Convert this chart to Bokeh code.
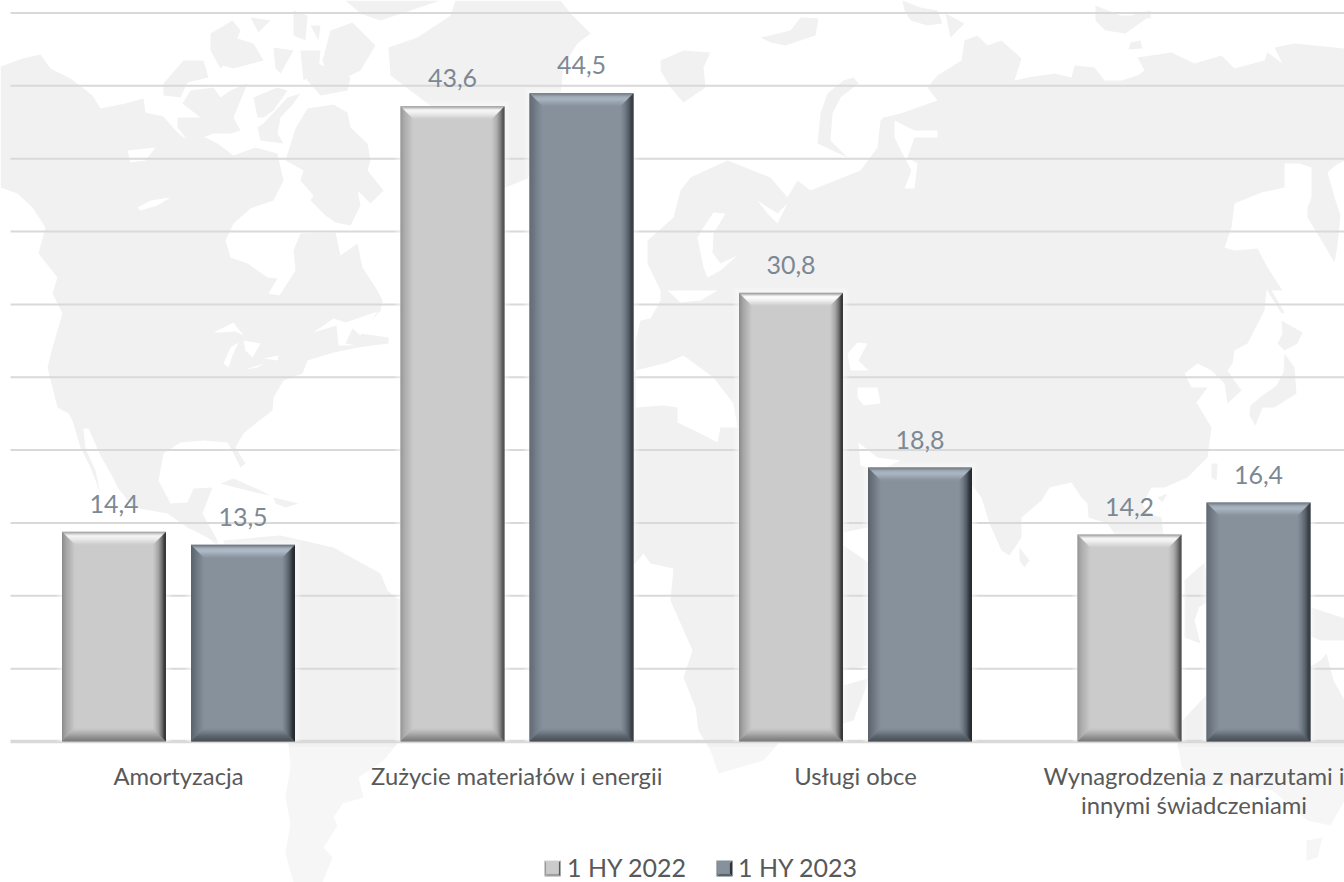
from bokeh.plotting import figure
from bokeh.models import (Range1d, PolyAnnotation, Legend, LegendItem, ColumnDataSource)
from bokeh.core.properties import value
from bokeh.embed import file_html
from bokeh.resources import INLINE

categories = ["Amortyzacja", "Zużycie materiałów i energii", "Usługi obce",
              "Wynagrodzenia z narzutami i\ninnymi świadczeniami"]
series_names = ["1 HY 2022", "1 HY 2023"]
values_2022 = [14.4, 43.6, 30.8, 14.2]
values_2023 = [13.5, 44.5, 18.8, 16.4]
grid_values = [0, 5, 10, 15, 20, 25, 30, 35, 40, 45, 50]

# decorative world-map backdrop, traced in pixels
LAND = [
 [(0,66),(22,58),(40,54),(50,68),(70,78),(92,95),(100,108),(125,103),(143,98),(145,112),(163,116),(175,130),(183,137),(205,137),(217,143),(233,155),(255,147),(277,153),(283,180),(273,200),(250,208),(233,223),(225,240),(230,257),(247,263),(267,277),(277,278),(268,293),(279,295),(295,270),(293,250),(300,233),(335,232),(340,255),(357,243),(362,267),(377,290),(382,300),(380,310),(360,333),(388,337),(388,343),(357,347),(333,352),(307,360),(302,373),(283,380),(273,397),(272,410),(250,427),(243,433),(235,447),(245,463),(240,467),(233,453),(227,442),(203,440),(180,442),(163,453),(158,480),(170,503),(187,502),(193,488),(212,487),(202,513),(217,540),(217,545),(207,537),(187,527),(167,513),(133,507),(117,487),(113,478),(100,455),(88,428),(83,428),(85,448),(95,470),(100,493),(90,467),(80,447),(72,420),(68,413),(57,407),(52,387),(47,367),(52,347),(62,313),(52,293),(57,277),(38,253),(45,227),(32,207),(17,193),(0,187)],
 [(358,0),(345,0),(360,13),(380,20),(440,0)],
 [(375,45),(360,70),(330,85),(322,60),(330,30),(352,22)],
 [(455,0),(560,0),(570,13),(590,33),(577,43),(563,65),(560,95),(540,150),(527,178),(505,187),(470,150),(430,105),(423,100),(390,75),(388,47),(417,37),(450,15)],
 [(295,128),(307,108),(333,104),(347,112),(350,127),(367,143),(370,160),(367,170),(383,190),(370,203),(357,190),(360,205),(350,225),(335,222),(325,215),(310,200),(313,195),(300,180),(303,170),(285,160)],
 [(163,83),(183,60),(203,60),(208,77),(187,82),(180,97),(163,95)],
 [(177,117),(200,117),(182,103),(190,90),(213,87),(220,97),(230,90),(247,83),(240,100),(233,117),(240,130),(230,133),(213,133),(200,138),(185,137),(177,127)],
 [(253,97),(277,87),(287,90),(273,110),(263,117),(257,117)],
 [(263,123),(287,97),(300,93),(293,103),(280,117),(277,133),(283,143),(260,140),(257,127)],
 [(303,57),(350,77),(347,90),(320,95),(307,80)],
 [(217,43),(237,38),(253,43),(263,60),(233,68),(223,65),(218,50)],
 [(273,47),(293,50),(280,73),(275,68)],
 [(300,50),(320,50),(318,72),(303,80)],
 [(210,33),(232,20),(240,30),(228,60),(220,68),(210,50)],
 [(250,17),(270,20),(258,32)],
 [(293,10),(307,15),(305,40),(293,35)],
 [(310,25),(320,25),(318,40)],
 [(220,483),(233,478),(260,490),(270,495),(255,492),(235,487)],
 [(273,497),(298,503),(285,507),(275,503)],
 [(223,540),(280,535),(333,547),(380,573),(387,590),(395,597),(450,620),(450,680),(410,730),(397,743),(383,760),(358,777),(363,797),(342,803),(333,817),(337,825),(323,847),(332,857),(322,882),(293,882),(285,853),(290,823),(285,797),(290,767),(288,743),(270,680),(235,600)],
 [(660,60),(683,50),(710,52),(703,67),(705,87),(683,102),(670,87),(660,70)],
 [(760,37),(790,30),(800,17),(818,18),(815,35),(785,45),(770,42)],
 [(853,77),(858,83),(840,97),(832,113),(830,140),(847,157),(817,143),(820,113),(827,93),(843,80)],
 [(902,0),(920,7),(937,10),(942,23),(927,25),(910,20),(904,10)],
 [(945,13),(964,23),(950,37)],
 [(1095,5),(1120,15),(1150,15),(1125,33),(1105,30),(1095,20)],
 [(1130,15),(1150,10),(1150,18)],
 [(1130,42),(1140,40),(1142,48),(1128,49)],
 # Eurasia and Africa
 [(680,190),(690,177),(727,160),(770,177),(787,197),(797,180),(810,190),(860,170),(877,147),(880,120),(883,117),(900,113),(917,107),(937,100),(927,87),(937,75),(961,60),(964,40),(977,35),(987,45),(1001,40),(1021,58),(1014,80),(1027,77),(1054,73),(1071,77),(1074,65),(1094,67),(1104,80),(1121,80),(1137,75),(1144,70),(1137,57),(1171,52),(1194,63),(1221,55),(1234,68),(1264,60),(1267,52),(1282,63),(1274,47),(1294,43),(1344,48),(1344,160),(1335,165),(1327,172),(1335,200),(1340,215),(1337,245),(1334,262),(1324,245),(1307,217),(1307,207),(1311,197),(1311,167),(1299,163),(1284,163),(1284,187),(1261,192),(1234,203),(1231,227),(1224,247),(1234,250),(1257,248),(1267,267),(1282,290),(1266,290),(1264,310),(1247,343),(1234,350),(1232,363),(1227,370),(1241,390),(1227,403),(1224,383),(1211,370),(1197,363),(1184,373),(1191,387),(1207,387),(1196,402),(1211,427),(1207,457),(1187,477),(1164,487),(1151,487),(1142,503),(1147,513),(1161,517),(1163,535),(1150,560),(1115,570),(1115,535),(1107,523),(1088,517),(1087,503),(1081,497),(1071,482),(1049,487),(1041,500),(1021,517),(1021,537),(1009,555),(1001,550),(989,523),(981,497),(960,470),(920,500),(880,530),(868,527),(843,532),(843,545),(880,570),(870,620),(867,683),(853,720),(843,723),(783,737),(763,760),(718,773),(710,750),(698,730),(695,707),(683,677),(692,650),(670,600),(673,568),(650,563),(643,553),(635,563),(590,560),(545,510),(535,450),(560,410),(600,385),(635,370),(635,340),(640,320),(650,318),(660,300),(660,290),(647,263),(647,240),(673,217)],
 [(1019,547),(1029,560),(1024,567),(1019,560)],
 [(1211,463),(1217,463),(1216,480),(1211,477)],
 [(1157,497),(1167,493),(1162,502)],
 [(1284,353),(1294,367),(1296,393),(1274,407),(1262,407),(1255,425),(1249,415),(1250,405),(1262,395),(1276,385),(1283,372)],
 [(1281,320),(1302,332),(1297,343),(1284,350),(1277,343),(1282,333)],
 [(1266,265),(1271,290),(1284,312),(1281,313),(1268,292),(1264,270)],
 [(1184,580),(1204,562),(1210,600),(1184,615)],
 [(1184,613),(1200,603),(1194,620),(1200,643),(1184,637)],
 [(1311,607),(1344,618),(1344,640),(1320,640),(1311,636)],
 [(1177,743),(1182,720),(1210,690),(1250,670),(1311,665),(1320,660),(1326,653),(1333,680),(1344,700),(1344,800),(1330,825),(1307,820),(1272,790),(1228,783),(1194,787),(1181,765)],
 [(1306,840),(1322,837),(1317,857),(1306,860)],
]
WATER = [
 [(213,332),(233,322),(243,335),(235,331),(220,332)],
 [(223,363),(230,347),(238,342),(232,355),(228,367)],
 [(243,340),(260,343),(252,357),(245,350)],
 [(245,369),(263,363),(257,367)],
 [(263,358),(278,355),(277,360)],
 [(313,332),(333,318),(345,322),(377,311),(368,325),(360,335),(352,328),(345,343),(355,345),(338,345),(336,325)],
 [(127,150),(155,147),(145,160),(130,162)],
 [(137,207),(150,200),(170,197),(157,205),(140,210)],
 [(713,212),(725,213),(713,233),(712,252),(720,263),(737,255),(720,270),(707,277),(703,267),(697,237),(703,227)],
 [(757,200),(777,213),(787,203),(777,223),(767,213)],
 [(667,290),(717,290),(700,300),(680,302)],
 [(635,370),(643,368),(667,362),(683,355),(713,377),(733,403),(737,427),(720,427),(717,442),(700,433),(677,422),(677,407),(663,405),(635,407)],
 [(847,353),(857,342),(867,343),(858,360),(868,370),(850,370)],
 [(857,387),(877,387),(880,403),(863,405),(857,397)],
 [(858,442),(877,457),(900,460),(880,470),(860,465)],
 [(843,532),(868,527),(868,540),(843,545)],
 [(894,120),(914,130),(937,130),(937,137),(914,137),(907,157),(917,163),(914,188),(904,188),(911,170),(904,157),(894,137)],
 [(843,670),(867,665),(867,678),(843,685)],
]

PX_X = 338.5          # pixels per category
PX_Y = 14.57          # pixels per unit
X0 = 178.0            # x of the first category
Y0 = 741.0            # y of value 0
BAR = 104 / PX_X
OFF = 64.5 / PX_X
BEVEL = 13
dx, dy = 1 / PX_X, 1 / PX_Y

p = figure(width=1344, height=882, output_backend="svg", toolbar_location=None,
           x_range=Range1d((0 - X0) / PX_X, (1344 - X0) / PX_X),
           y_range=Range1d((Y0 - 882) / PX_Y, Y0 / PX_Y),
           x_axis_location=None, y_axis_location=None,
           min_border_left=0, min_border_right=0, min_border_top=0, min_border_bottom=0,
           outline_line_color=None, background_fill_color="white", border_fill_color=None)
p.grid.visible = False


def backdrop(poly, color, alpha=1.0, level="underlay"):
    p.add_layout(PolyAnnotation(xs=[a for a, _ in poly], ys=[b for _, b in poly],
                                xs_units="canvas", ys_units="canvas",
                                fill_color=color, fill_alpha=alpha, line_color=None,
                                level=level))


for poly in LAND:
    backdrop(poly, "#f1f1f1")
for poly in WATER:
    backdrop(poly, "#ffffff")
backdrop([(0, 746), (1344, 746), (1344, 882), (0, 882)], "#ffffff", 0.35)

# grid
x_left = (10 - X0) / PX_X
x_right = (1344 - X0) / PX_X
p.segment(x0=[x_left] * (len(grid_values) - 1), x1=[x_right] * (len(grid_values) - 1),
          y0=grid_values[1:], y1=grid_values[1:], line_color="#d9d9d9", line_width=2)
p.segment(x0=[x_left], x1=[x_right], y0=grid_values[:1], y1=grid_values[:1],
          line_color="#d9d9d9", line_width=3.5)

# category labels
p.text(x=list(range(len(categories))), y=[0] * len(categories), text=categories,
       text_font=value("Lato"), text_font_size="23.8px", text_color="#595959",
       text_align="center", text_baseline="top", text_line_height=1.06, y_offset=20)


def hexrgb(h):
    return [int(h[i:i + 2], 16) for i in (1, 3, 5)]


def ramp(stops, t):
    for (a, ca), (b, cb) in zip(stops, stops[1:]):
        if t <= b:
            f = (t - a) / (b - a)
            r = [round(u + (v - u) * f) for u, v in zip(hexrgb(ca), hexrgb(cb))]
            return "#%02x%02x%02x" % tuple(r)
    return stops[-1][1]


LIGHT = dict(base="#cbcbcb",
             left=[(0, "#8a8a8a"), (.3, "#a4a4a4"), (1, "#cbcbcb")],
             top=[(0, "#8f8f8f"), (.15, "#c8c8c8"), (.3, "#ffffff"), (.55, "#f2f2f2"), (1, "#cbcbcb")],
             right=[(0, "#363636"), (.15, "#3e3e3e"), (.3, "#6c6c6c"), (.6, "#a6a6a6"), (1, "#cbcbcb")],
             bottom=[(0, "#6c6c6c"), (.3, "#858585"), (.6, "#a6a6a6"), (1, "#cbcbcb")])
DARK = dict(base="#87919c",
            left=[(0, "#59626b"), (.3, "#68717b"), (1, "#87919c")],
            top=[(0, "#66707a"), (.3, "#a9b5c1"), (.5, "#aebac6"), (1, "#87919c")],
            right=[(0, "#23282d"), (.2, "#2f353a"), (.4, "#505860"), (.7, "#707a85"), (1, "#87919c")],
            bottom=[(0, "#3f454b"), (.4, "#555d65"), (.7, "#707a85"), (1, "#87919c")])


def draw_series(vals, offset, style):
    cx = [i + offset for i in range(len(vals))]
    # soft white glow around each bar
    for g in range(6, 0, -1):
        p.quad(left=[c - BAR / 2 - g * dx for c in cx], right=[c + BAR / 2 + g * dx for c in cx],
               bottom=[0] * len(vals), top=[v + g * dy for v in vals],
               fill_color="white", fill_alpha=0.13, line_color=None)
    main = p.vbar(x=cx, top=vals, bottom=0, width=BAR, fill_color=style["base"], line_color=None)
    xs, ys, cols = [], [], []
    for c, v in zip(cx, vals):
        x0, x1 = c - BAR / 2, c + BAR / 2
        for k in range(BEVEL):
            a, b = k, k + 1.15
            ax, ay, bx, by = a * dx, a * dy, b * dx, b * dy
            t = (k + .5) / BEVEL
            xs += [[x0 + ax, x0 + bx, x0 + bx, x0 + ax],
                   [x1 - ax, x1 - bx, x1 - bx, x1 - ax],
                   [x0 + ax, x1 - ax, x1 - bx, x0 + bx],
                   [x0 + ax, x1 - ax, x1 - bx, x0 + bx]]
            ys += [[ay, by, v - by, v - ay],
                   [ay, by, v - by, v - ay],
                   [v - ay, v - ay, v - by, v - by],
                   [ay, ay, by, by]]
            cols += [ramp(style["left"], t), ramp(style["right"], t),
                     ramp(style["top"], t), ramp(style["bottom"], t)]
    p.patches("xs", "ys", fill_color="cols", line_color=None,
              source=ColumnDataSource(dict(xs=xs, ys=ys, cols=cols)))
    p.text(x=cx, y=vals, text=[f"{v:.1f}".replace(".", ",") for v in vals],
           text_font=value("Lato"), text_font_size="25px", text_color="#7c8894",
           text_align="center", text_baseline="bottom", y_offset=-19)
    return main


r22 = draw_series(values_2022, -OFF, LIGHT)
r23 = draw_series(values_2023, OFF, DARK)

legend = Legend(items=[LegendItem(label=series_names[0], renderers=[r22]),
                       LegendItem(label=series_names[1], renderers=[r23])],
                orientation="horizontal", location=(544, 0),
                border_line_color=None, background_fill_alpha=0,
                label_text_font="Lato", label_text_font_size="25px", label_text_color="#595959",
                glyph_width=16, glyph_height=16, label_standoff=7, spacing=29,
                padding=0, margin=0)
p.add_layout(legend, "center")


def swatch(x0, y0, lit, dark, top, bot):
    s = 16
    m = (x0 + s / 2, y0 + s / 2)
    faces = [([(x0, y0), (x0 + s, y0), m], top), ([(x0, y0 + s), (x0 + s, y0 + s), m], bot),
             ([(x0, y0), (x0, y0 + s), m], lit), ([(x0 + s, y0), (x0 + s, y0 + s), m], dark)]
    for f, col in faces:
        p.add_layout(PolyAnnotation(xs=[a for a, _ in f], ys=[b for _, b in f],
                                    xs_units="canvas", ys_units="canvas",
                                    fill_color=col, fill_alpha=1, line_color=None))


swatch(544, 860, "#9a9a9a", "#5a5a5a", "#d4d4d4", "#9f9f9f")
swatch(716, 860, "#5f6973", "#2f353a", "#7f8b97", "#58626c")

open("out.html", "w").write(file_html(p, INLINE))
